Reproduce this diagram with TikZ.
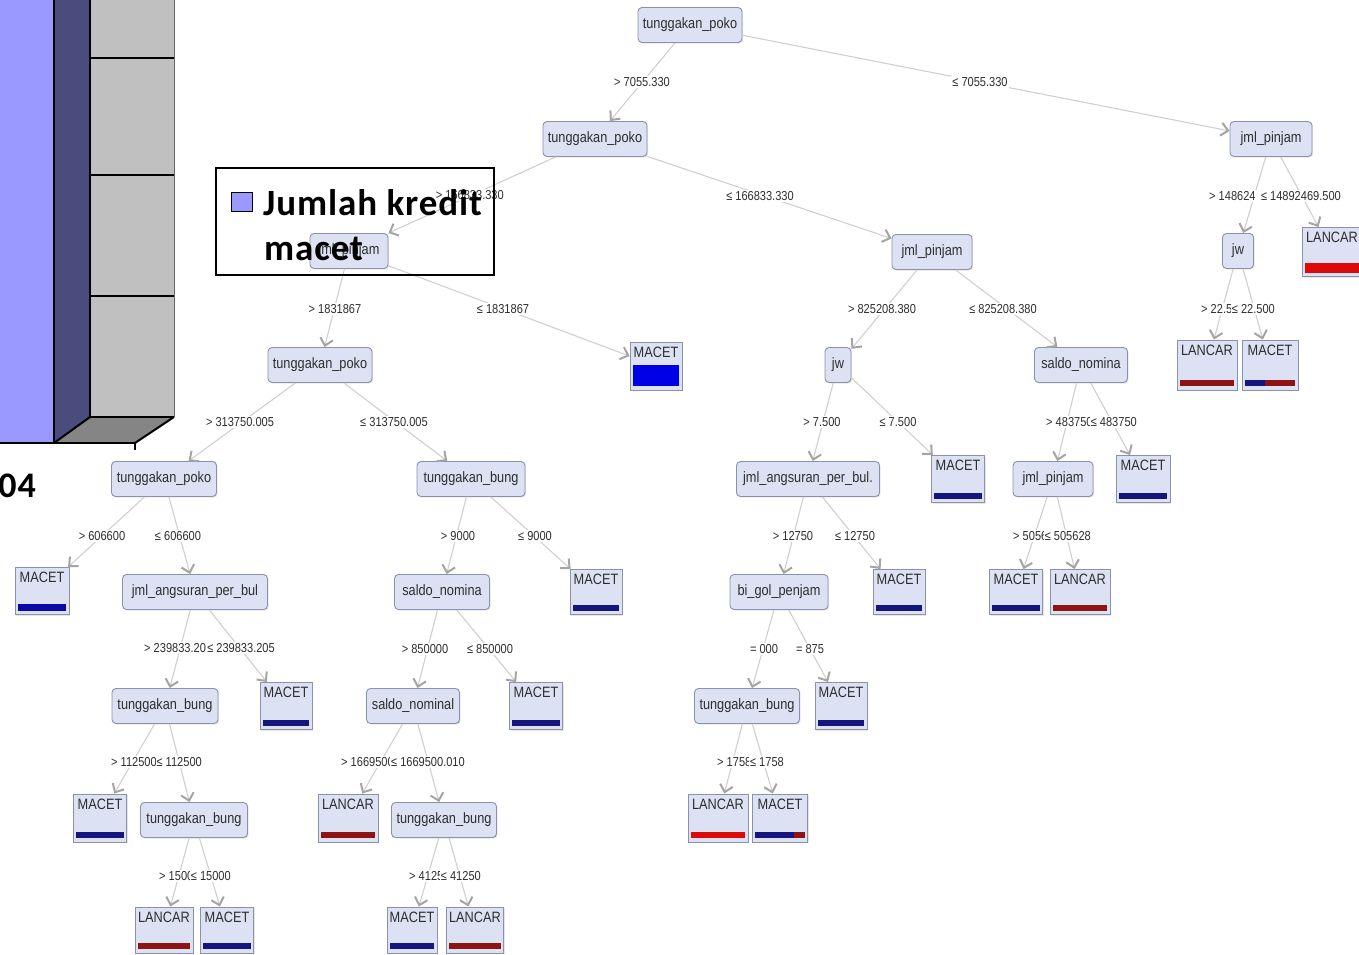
\documentclass[tikz,border=0pt]{standalone}
\usepackage{fontspec}
\usetikzlibrary{arrows.meta,shadows}
\newfontfamily\treefont[FakeStretch=0.85]{Liberation Sans}
\newfontfamily\chartfont[LetterSpace=2.5]{Carlito}

\definecolor{frontface}{HTML}{9999FF}
\definecolor{sideface}{HTML}{4B4B7D}
\definecolor{wallgrey}{HTML}{C0C0C0}
\definecolor{floorgrey}{HTML}{858585}
\definecolor{nodefill}{HTML}{DCE2F4}
\definecolor{nodeborder}{HTML}{8A92AA}
\definecolor{txt}{HTML}{2E2E2E}
\definecolor{edgecol}{HTML}{CFCFCF}
\definecolor{arrowcol}{HTML}{A4A4A4}
\definecolor{navybar}{HTML}{15157F}
\definecolor{bluebar}{HTML}{0000E6}
\definecolor{midblue}{HTML}{0A0AAA}
\definecolor{redbar}{HTML}{8E1414}
\definecolor{brightred}{HTML}{DD0A0A}

\tikzset{
  split/.style={draw=nodeborder, fill=nodefill, rounded corners=4pt, line width=0.9pt,
    font=\treefont\fontsize{15}{15}\selectfont, text=txt, inner sep=0pt, minimum height=35pt,
    drop shadow={shadow xshift=1.2pt, shadow yshift=-1.2pt, opacity=0.2}},
  leafbox/.style={draw=nodeborder, fill=nodefill, line width=0.9pt, inner sep=0pt,
    drop shadow={shadow xshift=1.2pt, shadow yshift=-1.2pt, opacity=0.2}},
  leaftext/.style={font=\treefont\fontsize{15}{15}\selectfont, text=txt, inner sep=0pt},
  elabel/.style={font=\treefont\fontsize{13}{13}\selectfont, text=txt, fill=white, inner sep=1pt},
  branch/.style={draw=edgecol, line width=1.1pt,
    -{Straight Barb[length=7pt,width=13pt,line width=2pt,color=arrowcol]}},
  chartline/.style={draw=black, line width=2pt},
}

% leaf: name, x, y, width, height, class, bar colour, bar height
\newcommand\leafnode[8]{%
  \node[leafbox, minimum width=#4, minimum height=#5] (#1) at (#2,#3) {};
  \node[leaftext, anchor=north] (#1t) at ([yshift=-5pt]#1.north) {#6};
  \fill[#7] ([xshift=3pt,yshift=4pt]#1.south west) rectangle ([xshift=-3pt,yshift={4pt+#8}]#1.south east);
}

\begin{document}
\begin{tikzpicture}[x=1pt,y=-1pt]
\useasboundingbox (0,0) rectangle (1359,955);

% ---- 3-D bar chart fragment ----
\fill[wallgrey] (90,-5) rectangle (174,417);
\draw[draw=black!60, line width=1pt] (174,-5) -- (174,417);
\foreach \yy in {58,175,296} \draw[chartline] (90,\yy) -- (174,\yy);
\fill[floorgrey] (54,443) -- (90,417) -- (174,417) -- (135,443) -- cycle;
\fill[frontface] (-5,-5) rectangle (54,443);
\fill[sideface] (54,-5) -- (90,-5) -- (90,417) -- (54,443) -- cycle;
\draw[chartline] (54,-5) -- (54,443);
\draw[chartline] (90,-5) -- (90,417) -- (174,417);
\draw[chartline] (54,443) -- (90,417);
\draw[chartline] (174,417) -- (135,443);
\draw[chartline] (-5,443) -- (135,443) -- (135,450);
\node[font=\chartfont\bfseries\fontsize{36}{36}\selectfont, anchor=base east, inner sep=0pt] (year) at (36,497) {04};

% ---- decision tree: split nodes ----
\node[split, minimum width=104] (root) at (690,25) {tunggakan\_poko};
\node[split, minimum width=104] (a) at (595,139) {tunggakan\_poko};
\node[split, minimum width=78]  (b) at (349,251) {jml\_pinjam};
\node[split, minimum width=80]  (c) at (932,252) {jml\_pinjam};
\node[split, minimum width=82]  (d) at (1271,139) {jml\_pinjam};
\node[split, minimum width=31]  (e) at (1238,251) {jw};
\node[split, minimum width=104] (f) at (320,365) {tunggakan\_poko};
\node[split, minimum width=105] (g) at (164,479) {tunggakan\_poko};
\node[split, minimum width=108] (h) at (471,479) {tunggakan\_bung};
\node[split, minimum width=145] (i) at (195,592) {jml\_angsuran\_per\_bul};
\node[split, minimum width=106] (j) at (165,706) {tunggakan\_bung};
\node[split, minimum width=107] (k) at (194,820) {tunggakan\_bung};
\node[split, minimum width=95]  (l) at (442,592) {saldo\_nomina};
\node[split, minimum width=93]  (m) at (413,706) {saldo\_nominal};
\node[split, minimum width=105] (n) at (444,820) {tunggakan\_bung};
\node[split, minimum width=26]  (o) at (838,365) {jw};
\node[split, minimum width=93]  (p) at (1081,365) {saldo\_nomina};
\node[split, minimum width=143] (q) at (808,479) {jml\_angsuran\_per\_bul.};
\node[split, minimum width=98]  (r) at (779,592) {bi\_gol\_penjam};
\node[split, minimum width=105] (s) at (747,706) {tunggakan\_bung};
\node[split, minimum width=80]  (t) at (1053,479) {jml\_pinjam};

% ---- decision tree: leaves ----
\leafnode{lf1}{1332}{252}{59}{49}{LANCAR}{brightred}{10pt}
\leafnode{lf2}{1207}{365}{60}{50}{LANCAR}{redbar}{6pt}
\leafnode{lf3}{1270}{365}{56}{50}{MACET}{navybar}{6pt}
\fill[redbar] ([xshift=-3pt,yshift=4pt]lf3.south east) rectangle ([xshift=-33pt,yshift=10pt]lf3.south east);
\leafnode{lf4}{656}{366}{52}{48}{MACET}{bluebar}{21pt}
\leafnode{lf5}{42}{591}{54}{47}{MACET}{midblue}{7pt}
\leafnode{lf6}{286}{706}{52}{47}{MACET}{navybar}{6pt}
\leafnode{lf7}{100}{818}{53}{48}{MACET}{navybar}{6pt}
\leafnode{lf8}{164}{930}{58}{46}{LANCAR}{redbar}{6pt}
\leafnode{lf9}{227}{930}{53}{46}{MACET}{navybar}{6pt}
\leafnode{lf10}{596}{592}{52}{45}{MACET}{navybar}{6pt}
\leafnode{lf11}{536}{706}{53}{47}{MACET}{navybar}{6pt}
\leafnode{lf12}{348}{818}{60}{48}{LANCAR}{redbar}{6pt}
\leafnode{lf13}{412}{930}{50}{46}{MACET}{navybar}{6pt}
\leafnode{lf14}{475}{930}{57}{46}{LANCAR}{redbar}{6pt}
\leafnode{lf15}{958}{479}{53}{47}{MACET}{navybar}{6pt}
\leafnode{lf16}{899}{592}{52}{45}{MACET}{navybar}{6pt}
\leafnode{lf17}{841}{706}{52}{47}{MACET}{navybar}{6pt}
\leafnode{lf18}{718}{818}{60}{48}{LANCAR}{brightred}{6pt}
\leafnode{lf19}{780}{818}{55}{48}{MACET}{navybar}{6pt}
\fill[redbar] ([xshift=-3pt,yshift=4pt]lf19.south east) rectangle ([xshift=-14pt,yshift=10pt]lf19.south east);
\leafnode{lf20}{1143}{479}{54}{47}{MACET}{navybar}{6pt}
\leafnode{lf21}{1016}{592}{53}{45}{MACET}{navybar}{6pt}
\leafnode{lf22}{1080}{592}{60}{45}{LANCAR}{redbar}{6pt}

% ---- branches ----
\foreach \u/\v in {root/a, root/d, a/b, a/c, d/e, d/lf1, e/lf2, e/lf3,
                   b/f, b/lf4, f/g, f/h, g/lf5, g/i, i/j, i/lf6, j/lf7, j/k, k/lf8, k/lf9,
                   h/l, h/lf10, l/m, l/lf11, m/lf12, m/n, n/lf13, n/lf14,
                   c/o, c/p, o/q, o/lf15, q/r, q/lf16, r/s, r/lf17, s/lf18, s/lf19,
                   p/t, p/lf20, t/lf21, t/lf22}
  \draw[branch] (\u) -- (\v);

% ---- branch conditions ----
\node[elabel] (c1) at (642,82) {> 7055.330};
\node[elabel] (c2) at (980,82) {≤ 7055.330};
\node[elabel, anchor=east] (c3) at (505,195) {> 166833.330};
\node[elabel] (c4) at (760,196) {≤ 166833.330};
\node[elabel] (c5) at (335,309) {> 1831867};
\node[elabel] (c6) at (503,309) {≤ 1831867};
\node[elabel] (c7) at (240,422) {> 313750.005};
\node[elabel] (c8) at (394,422) {≤ 313750.005};
\node[elabel] (c9) at (102,536) {> 606600};
\node[elabel] (c10) at (178,536) {≤ 606600};
\node[elabel, anchor=west] (c11) at (143,648) {> 239833.205};
\node[elabel, anchor=east] (c12) at (276,648) {≤ 239833.205};
\node[elabel, anchor=west] (c13) at (110,762) {> 112500};
\node[elabel, anchor=east] (c14) at (203,762) {≤ 112500};
\node[elabel, anchor=west] (c15) at (158,876) {> 15000};
\node[elabel, anchor=east] (c16) at (232,876) {≤ 15000};
\node[elabel] (c17) at (458,536) {> 9000};
\node[elabel] (c18) at (535,536) {≤ 9000};
\node[elabel] (c19) at (425,649) {> 850000};
\node[elabel] (c20) at (490,649) {≤ 850000};
\node[elabel, anchor=west] (c21) at (340,762) {> 1669500};
\node[elabel, anchor=east] (c22) at (466,762) {≤ 1669500.010};
\node[elabel, anchor=west] (c23) at (408,876) {> 41250};
\node[elabel, anchor=east] (c24) at (482,876) {≤ 41250};
\node[elabel] (c25) at (882,309) {> 825208.380};
\node[elabel] (c26) at (1003,309) {≤ 825208.380};
\node[elabel] (c27) at (822,422) {> 7.500};
\node[elabel] (c28) at (898,422) {≤ 7.500};
\node[elabel] (c29) at (793,536) {> 12750};
\node[elabel] (c30) at (855,536) {≤ 12750};
\node[elabel] (c31) at (764,649) {= 000};
\node[elabel] (c32) at (810,649) {= 875};
\node[elabel, anchor=west] (c33) at (716,762) {> 1758};
\node[elabel, anchor=east] (c34) at (785,762) {≤ 1758};
\node[elabel, anchor=west] (c35) at (1045,422) {> 483750};
\node[elabel, anchor=east] (c36) at (1138,422) {≤ 483750};
\node[elabel, anchor=west] (c37) at (1012,536) {> 505628};
\node[elabel, anchor=east] (c38) at (1092,536) {≤ 505628};
\node[elabel, anchor=west] (c39) at (1208,196) {> 148624};
\node[elabel, anchor=east] (c40) at (1342,196) {≤ 14892469.500};
\node[elabel, anchor=west] (c41) at (1200,309) {> 22.5};
\node[elabel, anchor=east] (c42) at (1276,309) {≤ 22.500};

% ---- legend (unfilled frame over the tree) ----
\draw[black, line width=2pt] (216,168) rectangle (494,275);
\node[draw=black, line width=1.5pt, fill=frontface, minimum width=21, minimum height=19, inner sep=0pt] (key) at (242,202) {};
\node[font=\chartfont\bfseries\fontsize{37}{37}\selectfont, anchor=base west, inner sep=0pt] (leg1) at (263,215) {Jumlah kredit};
\node[font=\chartfont\bfseries\fontsize{37}{37}\selectfont, anchor=base west, inner sep=0pt] (leg2) at (264,260) {macet};
\end{tikzpicture}
\end{document}
